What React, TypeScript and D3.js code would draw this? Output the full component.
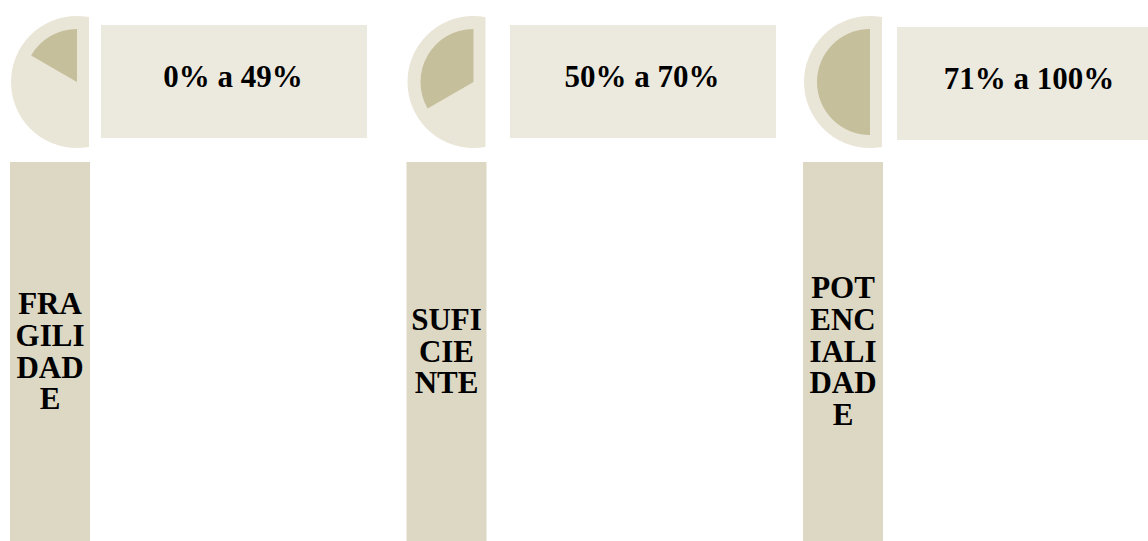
import React from "react";
import * as d3 from "d3";

// ---- data ----
const rangeLabels = ["0% a 49%", "50% a 70%", "71% a 100%"];
const levelLabels = ["FRAGILIDADE", "SUFICIENTE", "POTENCIALIDADE"];
const levelLines = [
  ["FRA", "GILI", "DAD", "E"],
  ["SUFI", "CIE", "NTE"],
  ["POT", "ENC", "IALI", "DAD", "E"],
];
const wedgeShare = [1 / 6, 1 / 3, 1 / 2];

// ---- layout ----
const W = 1148;
const H = 541;
const boxLeft = [101, 510, 897];
const boxTop = [25, 25, 27];
const boxW = 266;
const boxH = 113;
const outerR = 66;
const innerR = 53;
const cy = 82;
const barTop = 162;
const barW = 80;
const fontSize = 31;
const lineGap = 31.7;
const capH = 0.662 * fontSize;

const colors = {
  outer: "#E9E5D7",
  wedge: "#C6BF9B",
  box: "#ECEADF",
  bar: "#DDD8C3",
  text: "#000000",
};

export default function App() {
  const xC = d3.scalePoint<number>().domain([0, 1, 2]).range([77, 870]);
  const arcOuter = d3.arc<any>().innerRadius(0).outerRadius(outerR);
  const arcInner = d3.arc<any>().innerRadius(0).outerRadius(innerR);
  const barMid = (barTop + H) / 2;

  return (
    <div style={{ position: "fixed", left: 0, top: 0, width: W, height: H, background: "#fff" }}>
      <svg width={W} height={H} style={{ display: "block" }}>
        <defs>
          {rangeLabels.map((_, i) => (
            <clipPath id={`clip${i}`} key={i}>
              <rect x={xC(i)! - outerR - 2} y={0} width={outerR + 2 + 12} height={H} />
            </clipPath>
          ))}
        </defs>
        {rangeLabels.map((lab, i) => {
          const cx = xC(i)!;
          const share = wedgeShare[i];
          const n = levelLines[i].length;
          const b1 = barMid + capH / 2 - ((n - 1) * lineGap) / 2;
          return (
            <g key={lab}>
              <g clipPath={`url(#clip${i})`}>
                <path
                  d={arcOuter({ startAngle: 0, endAngle: 2 * Math.PI }) || ""}
                  transform={`translate(${cx},${cy})`}
                  fill={colors.outer}
                />
              </g>
              <path
                d={arcInner({ startAngle: -share * 2 * Math.PI, endAngle: 0 }) || ""}
                transform={`translate(${cx},${cy})`}
                fill={colors.wedge}
              />
              <rect x={boxLeft[i]} y={boxTop[i]} width={boxW} height={boxH} fill={colors.box} />
              <text
                x={boxLeft[i] + boxW / 2 - 1}
                y={86.5 + (boxTop[i] - 25)}
                textAnchor="middle"
                fontFamily="'Liberation Serif', 'Times New Roman', serif"
                fontWeight="bold"
                fontSize={fontSize}
                fill={colors.text}
              >
                {lab}
              </text>
              <rect x={cx - 67} y={barTop} width={barW} height={H - barTop} fill={colors.bar} />
              <text
                textAnchor="middle"
                fontFamily="'Liberation Serif', 'Times New Roman', serif"
                fontWeight="bold"
                fontSize={fontSize}
                fill={colors.text}
                aria-label={levelLabels[i]}
              >
                {levelLines[i].map((ln, j) => (
                  <tspan key={j} x={cx - 67 + barW / 2} y={b1 + j * lineGap}>
                    {ln}
                  </tspan>
                ))}
              </text>
            </g>
          );
        })}
      </svg>
    </div>
  );
}
